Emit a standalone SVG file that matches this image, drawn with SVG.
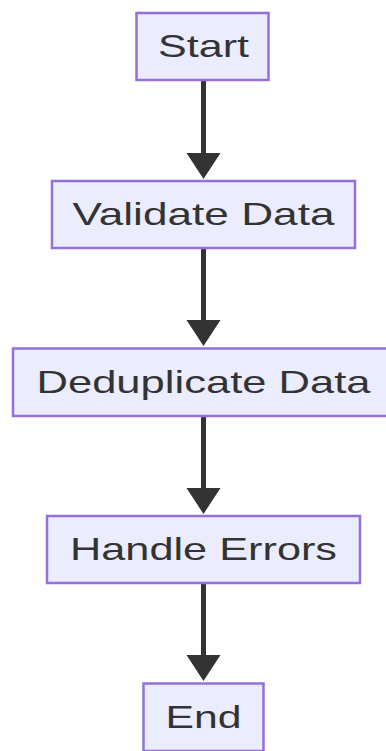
<svg xmlns="http://www.w3.org/2000/svg" width="386" height="751" viewBox="0 0 386 751">
  <style>
    .node rect { fill: #ECECFF; stroke: #9370DB; stroke-width: 2.5; }
    .node text { font-family: "Liberation Sans", Arial, sans-serif; font-size: 32px; fill: #333333; text-anchor: middle; }
    .edge { stroke: #333333; stroke-width: 5; fill: none; }
    .head { fill: #333333; }
  </style>
  <rect width="386" height="751" fill="#ffffff"/>

  <!-- connectors: shaft plus filled arrowhead -->
  <g id="edges">
    <line class="edge" x1="203.5" y1="80" x2="203.5" y2="156"/>
    <polygon class="head" points="186.5,153 220.5,153 203.5,179"/>
    <line class="edge" x1="203.5" y1="248" x2="203.5" y2="323"/>
    <polygon class="head" points="186.5,320 220.5,320 203.5,346"/>
    <line class="edge" x1="203.5" y1="416" x2="203.5" y2="491"/>
    <polygon class="head" points="186.5,488 220.5,488 203.5,514"/>
    <line class="edge" x1="203.5" y1="583" x2="203.5" y2="658"/>
    <polygon class="head" points="186.5,655 220.5,655 203.5,681"/>
  </g>

  <g id="start" class="node">
    <rect x="136.5" y="13" width="132" height="67"/>
    <text x="203.5" y="57" textLength="91" lengthAdjust="spacingAndGlyphs">Start</text>
  </g>
  <g id="validate" class="node">
    <rect x="52" y="181" width="303" height="67"/>
    <text x="203.5" y="225" textLength="262" lengthAdjust="spacingAndGlyphs">Validate Data</text>
  </g>
  <g id="dedup" class="node">
    <rect x="13" y="348.5" width="381" height="67.5"/>
    <text x="203.5" y="392.5" textLength="334" lengthAdjust="spacingAndGlyphs">Deduplicate Data</text>
  </g>
  <g id="errors" class="node">
    <rect x="47" y="516" width="313" height="67"/>
    <text x="203.5" y="560" textLength="267" lengthAdjust="spacingAndGlyphs">Handle Errors</text>
  </g>
  <g id="end" class="node">
    <rect x="143.5" y="683.5" width="120" height="67.5"/>
    <text x="203.5" y="727.5" textLength="76" lengthAdjust="spacingAndGlyphs">End</text>
  </g>
</svg>
